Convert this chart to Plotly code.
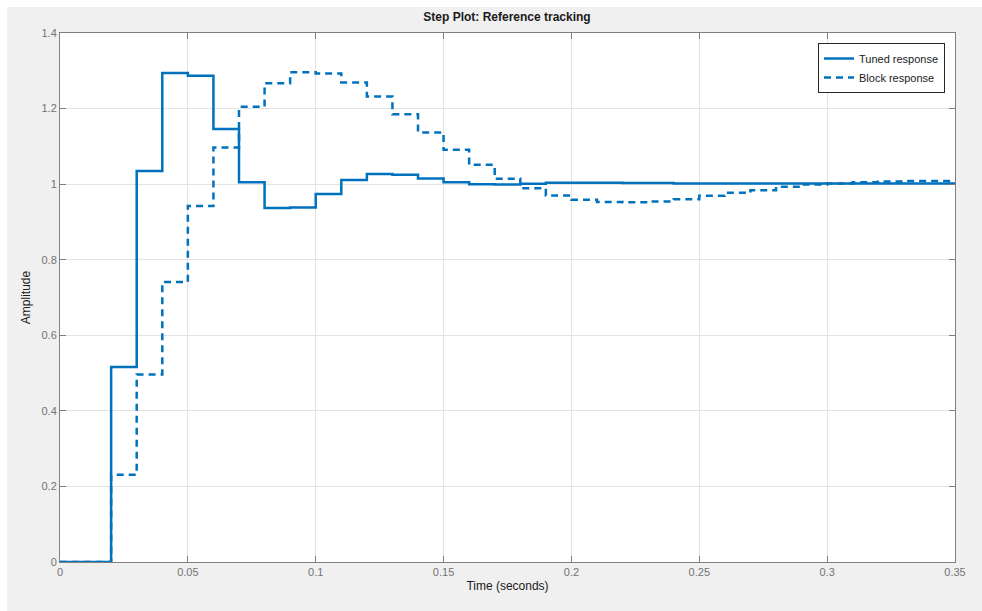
import plotly.graph_objects as go

# Time samples (step boundaries, seconds)
time = [round(0.01 * i, 2) for i in range(36)]

# Tuned response (value held on [t_i, t_{i+1}))
tuned = [0, 0, 0.516, 1.035, 1.294, 1.287, 1.146, 1.005, 0.937, 0.938,
         0.974, 1.011, 1.027, 1.025, 1.015, 1.005, 1.000, 0.999, 1.001, 1.004,
         1.004, 1.004, 1.003, 1.003, 1.002, 1.002, 1.002, 1.002, 1.002, 1.002,
         1.002, 1.002, 1.002, 1.002, 1.002, 1.002]

# Block response
block = [0, 0, 0.231, 0.496, 0.741, 0.942, 1.097, 1.205, 1.267, 1.296,
         1.293, 1.269, 1.232, 1.185, 1.137, 1.091, 1.051, 1.014, 0.989, 0.970,
         0.959, 0.953, 0.952, 0.954, 0.960, 0.969, 0.977, 0.984, 0.993, 0.999,
         1.002, 1.005, 1.007, 1.008, 1.008, 1.008]

x_ticks = [0, 0.05, 0.1, 0.15, 0.2, 0.25, 0.3, 0.35]
x_tick_labels = ["0", "0.05", "0.1", "0.15", "0.2", "0.25", "0.3", "0.35"]
y_ticks = [0, 0.2, 0.4, 0.6, 0.8, 1.0, 1.2, 1.4]
y_tick_labels = ["0", "0.2", "0.4", "0.6", "0.8", "1", "1.2", "1.4"]

BLUE = "#0072BD"
FONT = "Liberation Sans, Arial, sans-serif"

fig = go.Figure()
fig.add_trace(go.Scatter(x=time, y=tuned, mode="lines", line_shape="hv",
                         name="Tuned response",
                         line=dict(color=BLUE, width=2.5)))
fig.add_trace(go.Scatter(x=time, y=block, mode="lines", line_shape="hv",
                         name="Block response",
                         line=dict(color=BLUE, width=2.5, dash="7px,5px")))

# gray figure background (leaving a thin white border top/left)
fig.add_shape(type="rect", xref="paper", yref="paper",
              x0=(7 - 60) / 895, x1=(990 - 60) / 895,
              y0=(562 - 620) / 529, y1=(562 - 7) / 529,
              fillcolor="#f0f0f0", line=dict(width=0), layer="below")
# white plot area on top of the gray
fig.add_shape(type="rect", xref="x domain", yref="y domain",
              x0=0, x1=1, y0=0, y1=1,
              fillcolor="white", line=dict(width=0), layer="below")

axis_common = dict(
    showgrid=True, gridcolor="#e3e3e3", gridwidth=1,
    showline=True, linecolor="#7f7f7f", linewidth=1, mirror="ticks",
    ticks="inside", ticklen=6, tickcolor="#7f7f7f",
    tickfont=dict(family=FONT, size=11, color="#737373"),
    zeroline=False,
)

fig.update_layout(
    width=982, height=611,
    margin=dict(l=60, r=27, t=33, b=49),
    paper_bgcolor="white", plot_bgcolor="rgba(0,0,0,0)",
    title=dict(text="<b>Step Plot: Reference tracking</b>",
               x=(507) / 982, xanchor="center", y=1 - 17 / 611, yanchor="middle",
               font=dict(family=FONT, size=12, color="#1a1a1a")),
    xaxis=dict(range=[0, 0.35], tickvals=x_ticks, ticktext=x_tick_labels,
               title=dict(text="Time (seconds)", standoff=4,
                          font=dict(family=FONT, size=12, color="#1a1a1a")),
               **axis_common),
    yaxis=dict(range=[0, 1.4], tickvals=y_ticks, ticktext=y_tick_labels,
               title=dict(text="Amplitude", standoff=8,
                          font=dict(family=FONT, size=12, color="#1a1a1a")),
               **axis_common),
    legend=dict(x=(945 - 60) / 895, y=(562 - 43) / 529, xanchor="right", yanchor="top",
                bgcolor="white", bordercolor="#262626", borderwidth=1,
                font=dict(family=FONT, size=11, color="#1a1a1a"),
                tracegroupgap=0, itemwidth=30),
    showlegend=True,
)

fig.write_html("out.html")
